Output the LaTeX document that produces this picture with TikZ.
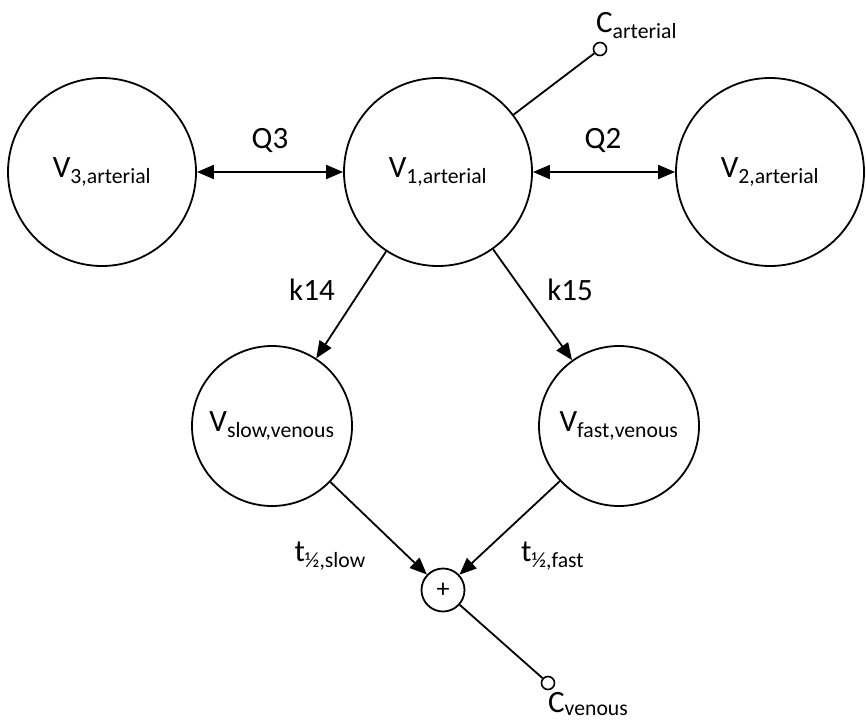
\documentclass[tikz,border=0pt]{standalone}
\usepackage{fontspec}
\setmainfont{Carlito}
\usetikzlibrary{arrows.meta}
\begin{document}
\begin{tikzpicture}[x=1pt,y=-1pt,
  every node/.style={font=\fontsize{31}{36}\selectfont},
  big/.style={circle,draw,line width=1.8pt,minimum size=188pt,inner sep=0pt},
  mid/.style={circle,draw,line width=1.8pt,minimum size=160pt,inner sep=0pt},
  sumnode/.style={circle,draw,line width=1.8pt,minimum size=43pt,inner sep=0pt},
  port/.style={circle,draw,line width=1.6pt,minimum size=13pt,inner sep=0pt},
  lbl/.style={inner sep=0pt},
  conn/.style={line width=1.8pt},
  arr/.style={conn,-{Triangle[length=17pt,width=14pt]}},
  darr/.style={conn,{Triangle[length=17pt,width=14pt]}-{Triangle[length=17pt,width=14pt]}}]
\useasboundingbox (0,0) rectangle (866,720);
\node[big] (v3) at (102,172) {V\textsubscript{3,arterial}};
\node[big] (v1) at (438,172) {V\textsubscript{1,arterial}};
\node[big] (v2) at (770,172) {V\textsubscript{2,arterial}};
\node[mid] (vs) at (272,426) {V\textsubscript{slow,venous}};
\node[mid] (vf) at (619,426) {V\textsubscript{fast,venous}};
\node[sumnode,font=\fontsize{26}{30}\selectfont] (sum) at (443,590) {+};
\node[port] (ca) at (600,49) {};
\node[port] (cv) at (548,683) {};
\draw[darr] (v3) -- (v1);
\draw[darr] (v1) -- (v2);
\draw[arr] (v1) -- (vs);
\draw[arr] (v1) -- (vf);
\draw[arr] (vs) -- (sum);
\draw[arr] (vf) -- (sum);
\draw[conn] (v1) -- (ca);
\draw[conn] (sum) -- (cv);
\node[lbl,anchor=base] (q3) at (270,148) {Q3};
\node[lbl,anchor=base] (q2) at (603,148) {Q2};
\node[lbl,anchor=base] (k14) at (312,300) {k14};
\node[lbl,anchor=base] (k15) at (570,300) {k15};
\node[lbl,anchor=base east] (ts) at (366,561) {t\textsubscript{½,slow}};
\node[lbl,anchor=base west] (tf) at (521,561) {t\textsubscript{½,fast}};
\node[lbl,anchor=base west] (lca) at (596,32) {C\textsubscript{arterial}};
\node[lbl,anchor=base west] (lcv) at (548,712) {C\textsubscript{venous}};
\end{tikzpicture}
\end{document}
